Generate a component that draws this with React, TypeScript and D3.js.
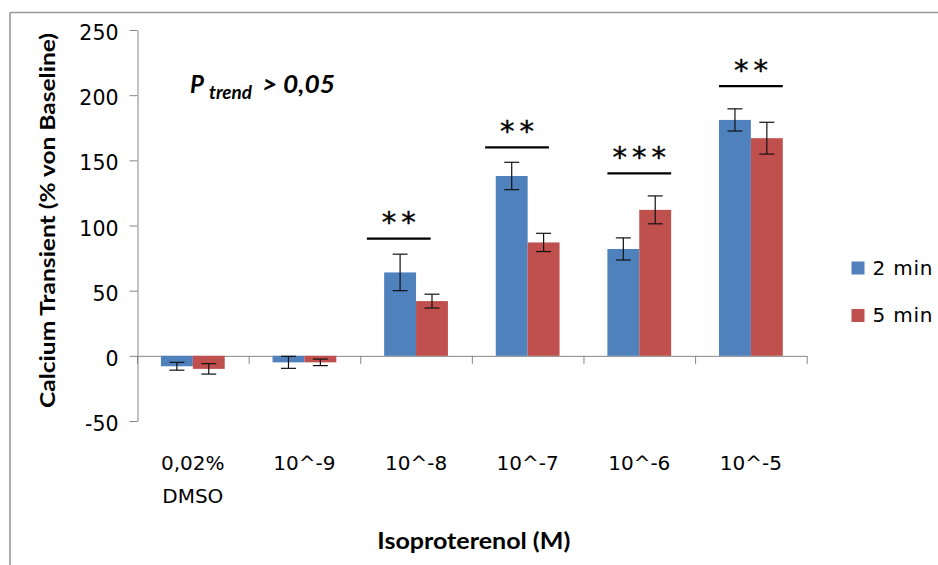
import React, { useEffect, useRef } from "react";
import * as d3 from "d3";

const categories = ["0,02% DMSO", "10^-9", "10^-8", "10^-7", "10^-6", "10^-5"];
const categoryLines = [["0,02%", "DMSO"], ["10^-9"], ["10^-8"], ["10^-7"], ["10^-6"], ["10^-5"]];
const seriesNames = ["2 min", "5 min"];
const min2 = [-8, -5, 64, 138, 82, 181];
const min2Err = [3, 4.6, 14, 10.5, 8.5, 8.5];
const min5 = [-10, -5, 42, 87, 112, 167];
const min5Err = [4, 2.5, 5.3, 7, 10.7, 12.2];
const sigLabels = ["", "", "**", "**", "***", "**"];
const sigLevel = [null, null, 90, 160, 140, 207];
const sigShift = [0, 0, -0.155, -0.095, 0, 0]; // in band units
const yTicks = [-50, 0, 50, 100, 150, 200, 250];

const W = 938;
const H = 565;
const colors = ["#4F81BD", "#C0504D"];
const axisColor = "#868686";

export default function App() {
  const yAxisRef = useRef<SVGGElement>(null);
  const xAxisRef = useRef<SVGGElement>(null);

  const x = d3.scaleBand<string>().domain(categories).range([137, 806.7]).paddingInner(0).paddingOuter(0);
  const x1 = d3.scaleBand<string>().domain(seriesNames).range([0, x.bandwidth()]).paddingInner(0).paddingOuter(0.75);
  const y = d3.scaleLinear().domain([-50, 250]).range([421, 30]);
  const idx = d3.scaleLinear().domain([0, categories.length]).range([137, 806.7]);

  const values = [min2, min5];
  const errs = [min2Err, min5Err];

  useEffect(() => {
    const ya = d3.select(yAxisRef.current!);
    ya.selectAll("*").remove();
    ya.call(
      d3
        .axisLeft(y)
        .tickValues(yTicks)
        .tickSize(8)
        .tickSizeOuter(0)
        .tickPadding(11)
        .tickFormat((d) => String(d))
    );
    ya.select(".domain").attr("stroke", axisColor);
    ya.selectAll(".tick line").attr("stroke", axisColor);
    ya.selectAll(".tick text")
      .attr("fill", "#000")
      .attr("dy", "0.47em")
      .style("font-family", "DejaVu Sans")
      .style("font-size", "20.5px");

    const xa = d3.select(xAxisRef.current!);
    xa.selectAll("*").remove();
    xa.call(
      d3.axisBottom(idx).tickValues(d3.range(categories.length + 1)).tickSize(8).tickSizeOuter(0).tickFormat(() => "")
    );
    xa.select(".domain").attr("stroke", axisColor);
    xa.selectAll(".tick line").attr("stroke", axisColor);
  }, []);

  return (
    <svg width={W} height={H} style={{ position: "absolute", left: 0, top: 0, background: "#fff" }}>
      <rect x={0} y={0} width={W} height={H} fill="#fff" />
      {/* outer frame */}
      <line x1={10} y1={12.5} x2={W + 5} y2={12.5} stroke="#999" strokeWidth={1.6} />
      <line x1={10} y1={12.5} x2={10} y2={H + 5} stroke="#999" strokeWidth={1.6} />

      <g ref={yAxisRef} transform="translate(137.5,0)" />
      <g ref={xAxisRef} transform={`translate(0,${y(0)})`} />

      {/* bars */}
      {categories.map((c, i) => (
        <g key={c}>
          {seriesNames.map((s, k) => {
            const v = values[k][i];
            const bx = (x(c) as number) + (x1(s) as number);
            return (
              <rect
                key={s}
                x={bx}
                y={Math.min(y(v), y(0))}
                width={x1.bandwidth()}
                height={Math.abs(y(v) - y(0))}
                fill={colors[k]}
              />
            );
          })}
        </g>
      ))}

      {/* error bars */}
      {categories.map((c, i) => (
        <g key={"e" + c}>
          {seriesNames.map((s, k) => {
            const v = values[k][i];
            const e = errs[k][i];
            const cx = (x(c) as number) + (x1(s) as number) + x1.bandwidth() / 2;
            return (
              <g key={s} stroke="#111" strokeWidth={1.2}>
                <line x1={cx} x2={cx} y1={y(v + e)} y2={y(v - e)} />
                <line x1={cx - 7.5} x2={cx + 7.5} y1={y(v + e)} y2={y(v + e)} />
                <line x1={cx - 7.5} x2={cx + 7.5} y1={y(v - e)} y2={y(v - e)} />
              </g>
            );
          })}
        </g>
      ))}

      {/* significance markers */}
      {categories.map((c, i) => {
        const lvl = sigLevel[i];
        if (lvl === null) return null;
        const cx = (x(c) as number) + x.bandwidth() / 2 + sigShift[i] * x.bandwidth();
        const half = x1.bandwidth();
        const ly = y(lvl);
        const ls = 5;
        return (
          <g key={"s" + c}>
            <line x1={cx - half} x2={cx + half} y1={ly} y2={ly} stroke="#000" strokeWidth={2.2} />
            <text
              x={cx + ls / 2}
              y={ly - 6.5}
              textAnchor="middle"
              fontFamily="DejaVu Sans"
              fontSize={29}
              letterSpacing={ls}
              fill="#000"
              stroke="#000"
              strokeWidth={0.4}
            >
              {sigLabels[i]}
            </text>
          </g>
        );
      })}

      {/* category labels */}
      {categories.map((c, i) => (
        <text
          key={"l" + c}
          x={(x(c) as number) + x.bandwidth() / 2}
          y={469.5}
          textAnchor="middle"
          fontFamily="DejaVu Sans"
          fontSize={20}
          fill="#000"
        >
          {categoryLines[i].map((t, j) => (
            <tspan key={j} x={(x(c) as number) + x.bandwidth() / 2} dy={j === 0 ? 0 : 33.4}>
              {t}
            </tspan>
          ))}
        </text>
      ))}

      {/* P trend */}
      <text x={190} y={93.3} fontFamily="Lato" fontWeight="bold" fontStyle="italic" fontSize={24} fill="#000">
        P
      </text>
      <text
        x={209}
        y={99.3}
        fontFamily="Lato"
        fontWeight="bold"
        fontStyle="italic"
        fontSize={19}
        fill="#000"
        textLength={43}
        lengthAdjust="spacingAndGlyphs"
      >
        trend
      </text>
      <text
        x={262}
        y={93.3}
        fontFamily="Lato"
        fontWeight="bold"
        fontStyle="italic"
        fontSize={25}
        fill="#000"
        textLength={73}
        lengthAdjust="spacingAndGlyphs"
      >
        {"> 0,05"}
      </text>

      {/* axis titles */}
      <text
        transform="translate(55,220.5) rotate(-90)"
        textAnchor="middle"
        fontFamily="Lato"
        fontWeight="bold"
        fontSize={21}
        fill="#000"
        textLength={375}
        lengthAdjust="spacingAndGlyphs"
      >
        Calcium Transient (% von Baseline)
      </text>
      <text
        x={473.8}
        y={549}
        textAnchor="middle"
        fontFamily="Lato"
        fontWeight="bold"
        fontSize={22}
        fill="#000"
        textLength={193}
        lengthAdjust="spacingAndGlyphs"
      >
        Isoproterenol (M)
      </text>

      {/* legend */}
      {seriesNames.map((s, k) => (
        <g key={"lg" + s} transform={`translate(851.5,${261.5 + k * 47.5})`}>
          <rect x={0} y={0} width={13} height={13} fill={colors[k]} />
          <text x={21} y={13} fontFamily="DejaVu Sans" fontSize={20} letterSpacing={0.8} fill="#000">
            {s}
          </text>
        </g>
      ))}
    </svg>
  );
}
